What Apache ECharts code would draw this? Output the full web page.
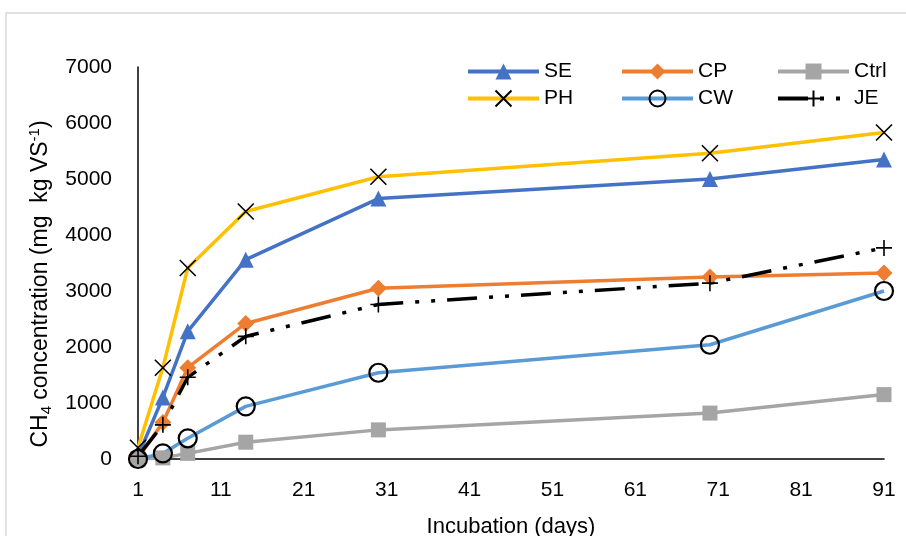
<!DOCTYPE html>
<html>
<head>
<meta charset="utf-8">
<script src="https://cdn.jsdelivr.net/npm/echarts@6/dist/echarts.min.js"></script>
<style>html,body{margin:0;padding:0;background:#fff;}#c{width:906px;height:536px;}</style>
</head>
<body>
<div id="c"></div>
<script>
var days = [1, 4, 7, 14, 30, 70, 91];
var SE   = [50, 1100, 2280, 3560, 4650, 5000, 5350];
var CP   = [20, 650, 1630, 2420, 3050, 3250, 3320];
var Ctrl = [0, 20, 100, 300, 520, 820, 1150];
var PH   = [200, 1630, 3410, 4420, 5040, 5460, 5830];
var CW   = [0, 100, 370, 940, 1540, 2040, 3000];
var JE   = [50, 610, 1460, 2190, 2760, 3140, 3770];
var seriesNames = ['SE', 'CP', 'Ctrl', 'PH', 'CW', 'JE'];
var xTicks = [1, 11, 21, 31, 41, 51, 61, 71, 81, 91];
var yTicks = [0, 1000, 2000, 3000, 4000, 5000, 6000, 7000];

function pairs(v){ return days.map(function(d,i){ return [d, v[i]]; }); }

var chart = echarts.init(document.getElementById('c'), null, {renderer:'canvas'});
var XPATH = 'path://M0,0L10,10M10,0L0,10';
var PLUS = 'path://M5,0L5,10M0,5L10,5';
var font = 'Liberation Sans';

function mk(name, data, color, symbol, size, itemStyle, lineStyle){
  return {
    name: name, type: 'line', data: pairs(data),
    symbol: symbol, symbolSize: size,
    lineStyle: Object.assign({color: color, width: 3.5}, lineStyle||{}),
    itemStyle: itemStyle || {color: color},
    emphasis: {disabled: true},
    animation: false
  };
}

var legendPos = [[461, 56], [615, 56], [771, 56], [461, 83], [615, 83], [771, 83]];
var legends = seriesNames.map(function(n, i){
  return {data: [n], left: legendPos[i][0], top: legendPos[i][1], itemWidth: 71, itemHeight: 20, itemGap: 0,
    selectedMode: false,
    lineStyle: {width: 4},
    textStyle: {fontFamily: font, fontSize: 21, color: '#000'}};
});

chart.setOption({
  backgroundColor: '#fff',
  animation: false,
  graphic: [{type:'rect', shape:{x:6, y:13, width:1000, height:700}, style:{fill:'none', stroke:'#d9d9d9', lineWidth:1.5}, silent:true}],
  grid: {left: 138, right: 22, top: 67, bottom: 77, containLabel: false, outerBoundsMode: 'none'},
  legend: legends,
  xAxis: {
    type: 'value', min: 1, max: 91, interval: 10,
    axisLine: {show: true, lineStyle: {color:'#000', width: 1.5}},
    axisTick: {show: false}, splitLine: {show: false},
    axisLabel: {fontFamily: font, fontSize: 21, color:'#000', margin: 21,
      formatter: function(v){ return xTicks.indexOf(v) >= 0 ? String(v) : ''; }},
    name: 'Incubation (days)', nameLocation: 'middle', nameGap: 57,
    nameTextStyle: {fontFamily: font, fontSize: 22, color:'#000'}
  },
  yAxis: {
    type: 'value', min: 0, max: 7000, interval: 1000,
    axisLine: {show: true, lineStyle: {color:'#000', width: 1.5}},
    axisTick: {show: false}, splitLine: {show: false},
    axisLabel: {fontFamily: font, fontSize: 21, color:'#000', margin: 26,
      formatter: function(v){ return yTicks.indexOf(v) >= 0 ? String(v) : ''; }},
    name: '{m|CH}{sub|4}{m| concentration (mg  kg VS}{sup|-1}{m|)}',
    nameLocation: 'middle', nameGap: 69, nameRotate: 90,
    nameTextStyle: {fontFamily: font, fontSize: 23, color:'#000', padding: [0, 42, 0, 0],
      rich: {
        m: {fontFamily: font, fontSize: 23, color:'#000'},
        sub: {fontFamily: font, fontSize: 15, color:'#000', padding:[12,0,0,0]},
        sup: {fontFamily: font, fontSize: 15, color:'#000', padding:[0,0,12,0]}
      }}
  },
  series: [
    mk('SE', SE, '#4472C4', 'triangle', 16),
    mk('CP', CP, '#ED7D31', 'diamond', 17),
    mk('Ctrl', Ctrl, '#A5A5A5', 'rect', 15),
    mk('PH', PH, '#FFC000', XPATH, 16, {color:'transparent', borderColor:'#000', borderWidth:1.6}),
    mk('CW', CW, '#5B9BD5', 'circle', 18, {color:'transparent', borderColor:'#000', borderWidth:2.2}),
    mk('JE', JE, '#000', PLUS, 16, {color:'transparent', borderColor:'#000', borderWidth:1.6},
       {color:'#000', width: 3.5, type:[30, 12, 4, 12, 4, 12]})
  ]
});
</script>
</body>
</html>
